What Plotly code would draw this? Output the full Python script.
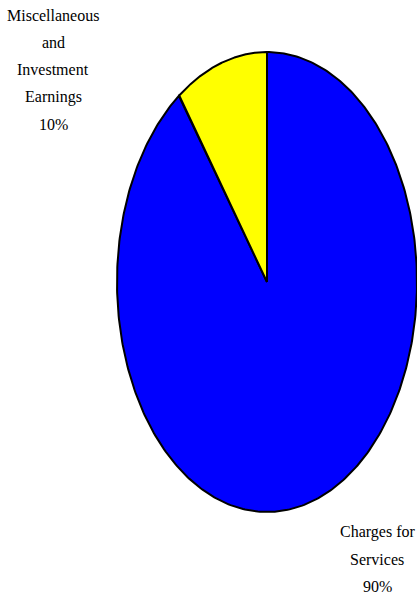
import numpy as np
import plotly.graph_objects as go

# Revenue sources (percent of total)
categories = ["Charges for Services", "Miscellaneous and Investment Earnings"]
shares = [90, 10]
label_lines = [["Charges for", "Services"],
               ["Miscellaneous", "and", "Investment", "Earnings"]]
colors = ["#0000FF", "#FFFF00"]

# Geometry of the (elliptical) pie in page pixels
W, H = 417, 596
CX, CY, RX, RY = 267, 282, 150, 230
START_DEG = 90  # first slice starts at 12 o'clock, drawn clockwise

label_anchor = [(377, 532), (53, 15)]
LINE_STEP = 27.3
FONT = "Liberation Serif, Times New Roman, serif"

fig = go.Figure()

total = float(sum(shares))
cum = 0.0
for name, val, col in zip(categories, shares, colors):
    a0 = START_DEG - 360.0 * cum / total
    a1 = START_DEG - 360.0 * (cum + val) / total
    t = np.radians(np.linspace(a0, a1, 400))
    xs = np.concatenate([[CX], CX + RX * np.cos(t), [CX]])
    ys = np.concatenate([[CY], CY - RY * np.sin(t), [CY]])
    fig.add_trace(go.Scatter(
        x=xs, y=ys, mode="lines", fill="toself", fillcolor=col,
        line=dict(color="black", width=2), name=name, hoverinfo="skip",
    ))
    cum += val

# Slice labels with percentages
for lines, val, (ax, ay) in zip(label_lines, shares, label_anchor):
    text_lines = lines + [f"{round(100 * val / total)}%"]
    for i, s in enumerate(text_lines):
        fig.add_annotation(
            x=ax, y=ay + i * LINE_STEP, text=s, showarrow=False,
            xanchor="center", yanchor="middle",
            font=dict(family=FONT, size=16, color="black"),
        )

fig.update_layout(
    width=W, height=H, margin=dict(l=0, r=0, t=0, b=0),
    paper_bgcolor="white", plot_bgcolor="white", showlegend=False,
    xaxis=dict(range=[0, W], visible=False, fixedrange=True),
    yaxis=dict(range=[H, 0], visible=False, fixedrange=True),
)

fig.write_html("out.html")
